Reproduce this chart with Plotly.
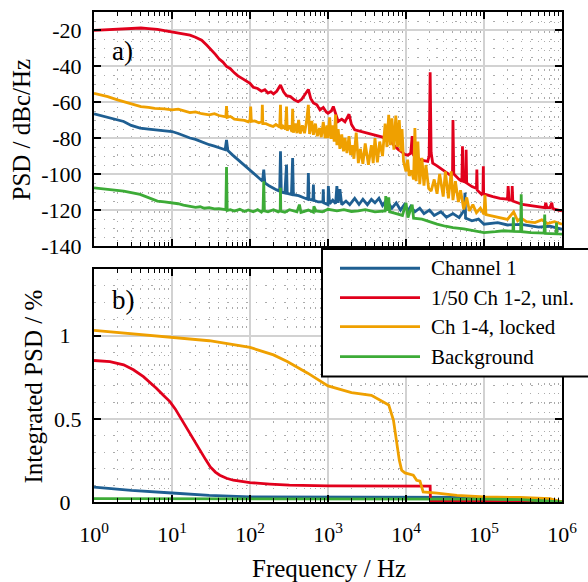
import plotly.graph_objects as go

# ---------------- data ----------------
series_names = ["Channel 1", "1/50 Ch 1-2, unl.", "Ch 1-4, locked", "Background"]

# Panel a) PSD in dBc/Hz
blue_f = [1, 1.5, 2, 2.4, 3, 3.9, 5, 6.5, 8, 10, 12, 14, 17, 20, 25, 30, 35, 40, 48, 50, 52, 60, 74, 85,
          100, 110, 125, 145, 150, 155, 175, 200, 220, 240, 246, 252, 280, 294, 300, 340, 352, 360, 420,
          480, 550, 560, 570, 640, 650, 660, 750, 860, 870, 880, 1000, 1010, 1050, 1150, 1250, 1300, 1350,
          1420, 1500, 1700, 1900, 2200, 2500, 2800, 3200, 3600, 4000, 4500, 5000, 5600, 6600, 7500, 8500,
          9500, 10500, 11500, 13000, 15000, 17000, 20000, 23000, 28000, 33000, 40000, 48000, 56000, 57000,
          58000, 70000, 85000, 100000, 150000, 200000, 300000, 500000, 700000, 1000000]
blue_v = [-66.6, -68.5, -70.0, -70.8, -73.0, -74.5, -75.0, -75.5, -76.0, -76.4, -77.5, -78.8, -80.0, -80.8,
          -82.5, -83.7, -84.5, -85.5, -86.5, -81.0, -87.0, -89.5, -92.9, -95.5, -98.0, -99.4, -101.5, -104.0,
          -97.5, -105.0, -106.5, -108.0, -108.8, -109.5, -87.4, -110.0, -110.5, -94.8, -110.7, -111.3, -91.1,
          -111.5, -112.0, -113.0, -114.0, -99.4, -114.0, -114.5, -105.8, -114.6, -115.5, -115.5, -108.5,
          -116.0, -117.0, -106.7, -116.5, -114.5, -116.5, -106.7, -116.0, -108.4, -117.0, -115.0, -117.0,
          -113.5, -116.9, -114.0, -117.0, -114.1, -116.0, -113.5, -117.5, -114.5, -119.0, -116.0, -120.0,
          -117.0, -120.5, -118.0, -121.0, -119.0, -122.0, -120.0, -123.0, -121.0, -124.0, -122.0, -124.2,
          -120.0, -110.4, -124.5, -126.0, -125.0, -127.9, -127.0, -128.3, -128.0, -129.5, -129.0, -130.7]

red_f = [1, 1.5, 2, 3, 4, 5, 6.5, 8, 10, 12, 14, 17, 20, 24, 28, 32, 36, 40, 45, 50, 56, 63, 70, 80, 90,
         100, 110, 125, 140, 155, 170, 185, 200, 220, 246, 270, 294, 330, 370, 414, 460, 520, 560, 600, 650,
         720, 790, 870, 950, 1000, 1100, 1170, 1250, 1350, 1500, 1650, 1860, 2000, 2200, 2500, 2800, 3300,
         3800, 4400, 5000, 5600, 6300, 7000, 8000, 9000, 9600, 10500, 11500, 12000, 12500, 13500, 15000,
         17000, 19000, 19800, 20400, 21000, 22000, 25000, 28000, 31000, 35000, 38000, 39500, 40000, 41000,
         44000, 48000, 52000, 53000, 54000, 58000, 59000, 60000, 70000, 80000, 81000, 82000, 93000, 97000,
         98000, 99000, 130000, 160000, 200000, 204000, 210000, 228000, 230000, 234000, 310000, 400000,
         500000, 600000, 620000, 640000, 700000, 740000, 760000, 800000, 900000, 1000000]
red_v = [-20.2, -19.7, -19.4, -19.1, -18.9, -19.2, -19.6, -20.4, -21.1, -21.5, -22.0, -22.9, -24.0, -25.7,
         -28.5, -31.0, -33.5, -36.0, -37.8, -40.2, -41.5, -43.8, -45.5, -47.0, -48.5, -49.6, -51.8, -52.5,
         -54.0, -53.2, -55.0, -54.3, -55.5, -54.0, -50.6, -54.5, -56.5, -57.0, -58.8, -59.8, -58.5, -55.0,
         -53.0, -58.0, -60.5, -61.5, -64.4, -63.0, -65.5, -66.2, -65.0, -62.5, -67.0, -70.8, -69.5, -71.0,
         -66.8, -72.5, -75.4, -76.0, -76.5, -77.3, -78.0, -78.5, -79.5, -80.5, -81.5, -84.0, -86.5, -88.0,
         -89.0, -89.5, -88.5, -79.0, -89.5, -91.0, -92.0, -92.5, -93.0, -90.0, -43.5, -88.0, -94.0, -95.5,
         -97.0, -98.5, -100.3, -101.0, -99.0, -70.0, -100.0, -101.5, -103.0, -104.0, -84.6, -104.0, -104.5,
         -86.5, -105.0, -107.0, -108.0, -97.5, -109.0, -111.3, -110.0, -95.7, -111.0, -112.5, -113.5, -114.0,
         -106.7, -114.5, -114.5, -106.7, -115.0, -116.9, -117.5, -118.0, -118.7, -116.0, -118.7, -118.7,
         -116.0, -119.0, -119.5, -120.0, -120.5]

orange_f = [1, 1.5, 2, 2.5, 3, 4, 5, 6, 8, 10, 12, 14, 17, 20, 24, 30, 35, 40, 45, 49, 50, 51, 56, 63, 74,
            85, 95, 100, 102, 104, 115, 130, 142, 144, 146, 160, 180, 198, 215, 240, 246, 250, 265, 285, 294,
            300, 320, 345, 352, 360, 380, 400, 420, 440, 470, 500, 530, 560, 580, 620, 650, 690, 730, 780,
            820, 870, 920, 970, 1000, 1050, 1100, 1150, 1200, 1250, 1300, 1350, 1420, 1500, 1580, 1650, 1750,
            1860, 1950, 2050, 2150, 2300, 2450, 2600, 2800, 3000, 3300, 3600, 3800, 4000, 4300, 4600, 5000,
            5400, 5700, 6000, 6300, 6600, 7000, 7400, 7800, 8200, 8600, 8900, 9300, 9700, 10000, 10500,
            11000, 11800, 12500, 13000, 13500, 14200, 15000, 16000, 17000, 18000, 19500, 21000, 23000,
            25000, 27000, 30000, 32000, 35000, 38000, 40000, 43000, 47000, 50000, 55000, 60000, 65000,
            72000, 80000, 90000, 100000, 103000, 106000, 130000, 160000, 200000, 240000, 270000, 300000,
            350000, 450000, 550000, 650000, 800000, 1000000]
orange_v = [-55.2, -57.0, -58.8, -60.0, -61.0, -62.5, -63.0, -63.5, -63.8, -64.4, -64.0, -64.8, -65.9, -65.5,
            -66.5, -67.1, -66.5, -67.5, -68.0, -68.2, -62.2, -68.5, -68.0, -69.5, -69.9, -70.2, -71.0, -70.0,
            -62.5, -70.8, -70.5, -71.5, -71.0, -61.6, -72.0, -72.0, -73.0, -73.6, -72.5, -74.0, -61.6, -75.0,
            -73.5, -75.0, -62.5, -76.0, -73.0, -76.5, -63.8, -77.0, -72.0, -77.3, -70.0, -77.5, -73.0, -77.3,
            -71.0, -61.6, -77.8, -70.5, -78.2, -72.0, -79.0, -74.5, -79.5, -71.0, -80.0, -73.0, -80.0, -68.5,
            -80.5, -73.0, -82.0, -67.0, -84.0, -75.0, -86.0, -78.0, -87.4, -80.0, -88.3, -79.0, -89.5, -84.0,
            -91.5, -77.0, -93.9, -86.0, -94.3, -83.0, -94.8, -84.0, -94.0, -80.0, -93.5, -82.0, -90.0, -72.0,
            -85.0, -67.1, -84.0, -69.0, -86.5, -67.5, -85.0, -70.0, -87.4, -75.0, -93.0, -96.0, -98.5, -92.0,
            -101.0, -98.0, -103.0, -74.5, -104.0, -82.0, -105.6, -91.0, -106.5, -95.0, -108.0, -109.5, -103.0,
            -111.0, -100.0, -112.5, -98.5, -113.5, -98.5, -114.5, -104.0, -115.5, -109.0, -119.6, -113.0,
            -120.5, -117.0, -121.5, -119.0, -122.4, -111.6, -122.5, -123.5, -124.5, -125.2, -121.0, -126.0,
            -124.5, -126.5, -127.0, -125.5, -127.5, -126.5, -127.9]

green_f = [1, 1.5, 2.4, 3.9, 5, 6.5, 8, 10, 12, 14, 17, 20, 23, 26, 30, 35, 40, 45, 49, 50, 51, 56, 63, 74,
           85, 95, 110, 125, 140, 147, 150, 153, 170, 200, 230, 244, 246, 248, 280, 320, 400, 430, 450, 560,
           650, 660, 700, 850, 1000, 1300, 1600, 2000, 2450, 3000, 4000, 5400, 5500, 5700, 6000, 6200, 7500,
           9000, 10000, 10600, 12000, 12500, 16000, 20000, 25000, 32000, 40000, 55000, 70000, 100000, 140000,
           180000, 235000, 238000, 241000, 295000, 300000, 305000, 400000, 590000, 600000, 610000, 840000,
           850000, 860000, 1000000]
green_v = [-107.7, -108.6, -109.5, -111.3, -113.0, -115.0, -115.5, -116.0, -116.5, -117.3, -117.8, -118.5,
           -118.2, -119.0, -118.7, -119.4, -119.2, -119.6, -119.8, -96.1, -120.2, -119.8, -120.6, -119.6,
           -120.8, -120.0, -121.0, -119.8, -121.2, -120.0, -104.0, -120.5, -121.0, -119.8, -121.0, -120.4,
           -107.7, -120.6, -121.2, -119.8, -121.0, -117.0, -121.3, -120.0, -121.2, -118.0, -120.5, -121.0,
           -119.6, -120.5, -119.8, -120.8, -120.5, -119.8, -121.0, -120.5, -112.3, -120.5, -113.0, -121.0,
           -122.0, -123.0, -116.0, -124.2, -117.0, -124.5, -125.1, -126.5, -127.8, -129.0, -129.8, -130.5,
           -131.2, -132.5, -132.0, -131.5, -131.8, -124.0, -131.9, -132.0, -111.3, -132.0, -132.5, -132.8,
           -122.5, -133.0, -133.2, -127.0, -133.2, -133.4]

# Panel b) integrated PSD in %
blue_int_f = [1, 3, 10, 30, 100, 1000, 10000, 100000, 300000, 600000, 1000000]
blue_int_v = [0.090, 0.070, 0.054, 0.040, 0.031, 0.030, 0.030, 0.028, 0.022, 0.012, 0.0]

red_int_f = [1, 1.6, 2.4, 3.2, 4.3, 5.2, 6.3, 7.8, 9.4, 11, 12.6, 15, 17, 20, 23, 27, 31, 36, 41, 50, 61,
             80, 100, 180, 320, 1000, 5000, 20400, 20600, 100000, 1000000]
red_int_v = [0.851, 0.845, 0.825, 0.795, 0.754, 0.722, 0.684, 0.640, 0.604, 0.560, 0.513, 0.460, 0.413,
             0.360, 0.312, 0.255, 0.211, 0.180, 0.161, 0.143, 0.131, 0.122, 0.117, 0.108, 0.101, 0.097,
             0.095, 0.095, 0.006, 0.005, 0.0]

orange_int_f = [1, 3, 10, 30, 100, 200, 300, 550, 1000, 2000, 3600, 5000, 6000, 6900, 7600, 8200, 8800,
                9700, 12400, 13700, 15100, 15900, 16600, 25000, 45000, 100000, 290000, 700000, 1000000]
orange_int_v = [1.032, 1.012, 0.994, 0.970, 0.930, 0.885, 0.845, 0.775, 0.698, 0.658, 0.642, 0.604, 0.584,
                0.493, 0.352, 0.252, 0.191, 0.175, 0.161, 0.131, 0.125, 0.087, 0.060, 0.054, 0.040, 0.030,
                0.027, 0.020, 0.0]

green_int_f = [1, 100, 10000, 100000, 300000, 600000, 1000000]
green_int_v = [0.020, 0.020, 0.019, 0.017, 0.014, 0.008, 0.0]

# ticks
x_tickvals = [1, 10, 100, 1000, 10000, 100000, 1000000]
x_ticktext = ["10<sup>0</sup>", "10<sup>1</sup>", "10<sup>2</sup>", "10<sup>3</sup>",
              "10<sup>4</sup>", "10<sup>5</sup>", "10<sup>6</sup>"]
ya_tickvals = [-140, -120, -100, -80, -60, -40, -20]
ya_ticktext = ["-140", "-120", "-100", "-80", "-60", "-40", "-20"]
yb_tickvals = [0, 0.5, 1]
yb_ticktext = ["0\u00a0\u00a0", "0.5", "1\u00a0\u00a0"]

# ---------------- figure ----------------
W, H = 588, 582
ML, MR, MT, MB = 94, 26, 10, 80
PW, PH = W - ML - MR, H - MT - MB


def px(x):
    return (x - ML) / PW


def py(y):
    return (H - MB - y) / PH


colors = ["#1f5f92", "#e1001c", "#efa000", "#3dab37"]
FONT = "Liberation Serif, Times New Roman, serif"
LW = 2.8

fig = go.Figure()
top = [(blue_f, blue_v), (red_f, red_v), (orange_f, orange_v), (green_f, green_v)]
bot = [(blue_int_f, blue_int_v), (red_int_f, red_int_v), (orange_int_f, orange_int_v),
       (green_int_f, green_int_v)]
for (fx, fy), c, n in zip(top, colors, series_names):
    fig.add_trace(go.Scatter(x=fx, y=fy, mode="lines", line=dict(color=c, width=LW),
                             name=n, showlegend=False, xaxis="x", yaxis="y"))
for (fx, fy), c, n in zip(bot, colors, series_names):
    fig.add_trace(go.Scatter(x=fx, y=fy, mode="lines", line=dict(color=c, width=LW),
                             name=n, showlegend=False, xaxis="x2", yaxis="y2"))

grid_major = "#d2d2d2"
grid_minor = "#ababab"
common_x = dict(type="log", range=[0, 6], tickmode="array", tickvals=x_tickvals,
                ticks="inside", ticklen=7, tickwidth=1.5, tickcolor="black",
                showline=True, linecolor="black", linewidth=2, mirror="allticks",
                showgrid=True, gridcolor=grid_major, gridwidth=1.5, zeroline=False,
                minor=dict(dtick="D1", ticks="inside", ticklen=4, tickwidth=1, tickcolor="black",
                           showgrid=True, gridcolor=grid_minor, griddash="1.5px,8px", gridwidth=1),
                tickfont=dict(family=FONT, size=22, color="black"))
common_y = dict(ticks="inside", ticklen=7, tickwidth=1.5, tickcolor="black",
                showline=True, linecolor="black", linewidth=2, mirror="allticks",
                showgrid=True, gridcolor=grid_major, gridwidth=1.5, zeroline=False,
                tickmode="array", ticklabelstandoff=6,
                tickfont=dict(family=FONT, size=22, color="black"))

yb_top = (H - MB - 245) / PH
yb2_top = (H - MB - 268.3) / PH

fig.update_layout(
    width=W, height=H, margin=dict(l=ML, r=MR, t=MT, b=MB),
    paper_bgcolor="white", plot_bgcolor="white",
    font=dict(family=FONT, size=22, color="black"),
    xaxis=dict(common_x, anchor="y", showticklabels=False, domain=[0, 1]),
    xaxis2=dict(common_x, anchor="y2", ticktext=x_ticktext, ticklabelstandoff=12, domain=[0, 1],
                matches="x"),
    yaxis=dict(common_y, anchor="x", domain=[yb_top, 1], range=[-140, -10],
               tickvals=ya_tickvals, ticktext=ya_ticktext,
               minor=dict(tickmode="linear", tick0=0, dtick=5, ticks="", showgrid=True,
                          gridcolor=grid_minor, griddash="1.5px,8px", gridwidth=1)),
    yaxis2=dict(common_y, anchor="x2", domain=[0, yb2_top], range=[0, 1.4],
                tickvals=yb_tickvals, ticktext=yb_ticktext,
                minor=dict(tickmode="linear", tick0=0, dtick=0.1, ticks="", showgrid=True,
                           gridcolor=grid_minor, griddash="1.5px,8px", gridwidth=1)),
    showlegend=False,
)

ann = []
ann.append(dict(text="a)", x=px(110), y=py(49), xref="paper", yref="paper", xanchor="left",
                yanchor="middle", showarrow=False, font=dict(family=FONT, size=27)))
ann.append(dict(text="b)", x=px(110), y=py(299), xref="paper", yref="paper", xanchor="left",
                yanchor="middle", showarrow=False, font=dict(family=FONT, size=27)))
ann.append(dict(text="PSD / dBc/Hz", x=px(22), y=py(128), xref="paper", yref="paper",
                textangle=-90, showarrow=False, xanchor="center", yanchor="middle",
                font=dict(family=FONT, size=25)))
ann.append(dict(text="Integrated PSD / %", x=px(33), y=py(386), xref="paper", yref="paper",
                textangle=-90, showarrow=False, xanchor="center", yanchor="middle",
                font=dict(family=FONT, size=25)))
ann.append(dict(text="Frequency / Hz", x=px(329), y=py(569), xref="paper", yref="paper",
                showarrow=False, xanchor="center", yanchor="middle",
                font=dict(family=FONT, size=25)))

# legend box (drawn)
shapes = [dict(type="rect", xref="paper", yref="paper", x0=px(322), x1=px(610), y0=py(376), y1=py(248),
               fillcolor="white", line=dict(color="black", width=2), layer="above")]
rows = [267.3, 296.7, 326, 356]
for r, c, n in zip(rows, colors, series_names):
    shapes.append(dict(type="line", xref="paper", yref="paper", x0=px(340), x1=px(420), y0=py(r), y1=py(r),
                       line=dict(color=c, width=LW), layer="above"))
    ann.append(dict(text=n, x=px(429), y=py(r), xref="paper", yref="paper", xanchor="left",
                    yanchor="middle", showarrow=False, font=dict(family=FONT, size=21)))

fig.update_layout(annotations=ann, shapes=shapes)
fig.write_html("out.html", config={"displayModeBar": False},
               post_script="document.body.style.margin='0';document.body.style.overflow='hidden';")
